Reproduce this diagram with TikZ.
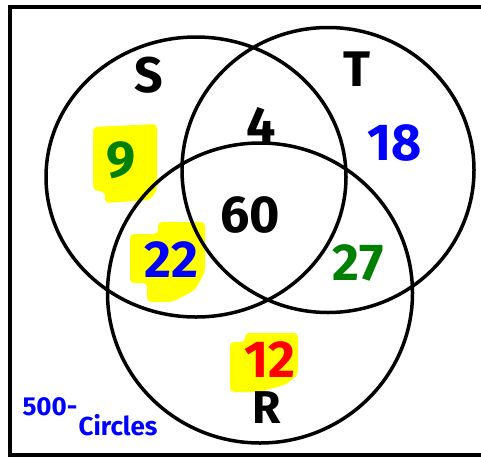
\documentclass[tikz,border=0pt]{standalone}
\usepackage{fontspec}
\setmainfont{Fira Sans}
\usetikzlibrary{shapes.geometric}
\definecolor{mgreen}{RGB}{0,128,0}
\definecolor{mblue}{RGB}{0,0,255}
\definecolor{mred}{RGB}{255,0,0}
\definecolor{hl}{RGB}{255,255,0}
\begin{document}
\begin{tikzpicture}[x=1pt,y=-1pt,
  venn/.style={ellipse,draw,line width=3.5pt,inner sep=0pt,outer sep=0pt},
  big/.style={font=\fontsize{52}{52}\selectfont\bfseries,inner sep=0pt},
  setlabel/.style={font=\fontsize{50}{50}\selectfont\bfseries,inner sep=0pt},
  note/.style={font=\fontsize{26}{26}\selectfont\bfseries,text=mblue,inner sep=0pt},
  hlite/.style={fill=hl,rounded corners=4pt}]
\useasboundingbox (0,0) rectangle (481,458);
\draw[line width=3.5pt] (10,7) rectangle (495,455);
% highlights
\fill[hlite] (93,127) -- (157,124) -- (157,190) -- (150,200) -- (105,203) -- (105,192) -- (93,190) -- cycle;
\fill[hlite] (130,234) -- (158,234) -- (158,222) -- (205,222) -- (205,272) -- (195,290) -- (172,302) -- (147,302) -- (147,283) -- (130,283) -- cycle;
\fill[hlite] (230,342) -- (245,342) -- (245,333) -- (298,333) -- (298,375) -- (285,385) -- (258,392) -- (230,392) -- cycle;
% sets
\node[venn,minimum width=300pt,minimum height=280pt] (S) at (196,177) {};
\node[venn,minimum width=292pt,minimum height=285pt] (T) at (328,170) {};
\node[venn,minimum width=305pt,minimum height=300pt] (R) at (260,293) {};
% set labels
\node[setlabel] (Slab) at (149,75) {S};
\node[setlabel] (Tlab) at (357,69) {T};
\node[setlabel,font=\fontsize{46}{46}\selectfont\bfseries] (Rlab) at (267,408) {R};
% counts
\node[big,text=mgreen] (n9) at (121,160) {9};
\node[big] (n4) at (261,125) {4};
\node[big,text=mblue] (n18) at (395,143) {18};
\node[big] (n60) at (250,215) {60};
\node[big,text=mblue] (n22) at (171,260) {22};
\node[big,text=mgreen] (n27) at (358,263) {27};
\node[big,text=mred] (n12) at (270,360) {12};
% note
\node[note] (total) at (50,407) {500-};
\node[note] (circ) at (118,425) {Circles};
\end{tikzpicture}
\end{document}
